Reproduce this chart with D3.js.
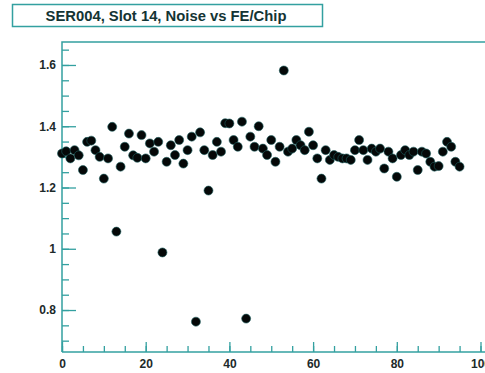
<!DOCTYPE html>
<html>
<head>
<meta charset="utf-8">
<script src="https://cdn.jsdelivr.net/npm/d3@7"></script>
<style>
  body { margin: 0; background: #fff; }
  svg { display: block; }
  .lbl { font-family: "Liberation Sans", Arial, Helvetica, sans-serif; font-weight: bold; font-size: 12px; fill: #1c2a2a; }
</style>
</head>
<body>
<svg id="chart" width="485" height="373"></svg>
<script>
// noise per FE/Chip index
const chipIndex = d3.range(0, 96);
const noise = [
    1.311, 1.318, 1.295, 1.322, 1.305, 1.257, 1.349, 1.353, 1.322, 1.300,
    1.229, 1.295, 1.398, 1.056, 1.268, 1.333, 1.376, 1.305, 1.297, 1.371,
    1.295, 1.344, 1.317, 1.349, 0.988, 1.284, 1.338, 1.306, 1.355, 1.278,
    1.322, 1.366, 0.762, 1.380, 1.322, 1.190, 1.306, 1.349, 1.317, 1.410,
    1.409, 1.355, 1.333, 1.415, 0.772, 1.366, 1.333, 1.400, 1.327, 1.306,
    1.355, 1.284, 1.333, 1.582, 1.317, 1.327, 1.355, 1.338, 1.322, 1.382,
    1.338, 1.295, 1.229, 1.322, 1.290, 1.306, 1.300, 1.295, 1.295, 1.290,
    1.322, 1.355, 1.322, 1.290, 1.327, 1.317, 1.327, 1.262, 1.317, 1.295,
    1.235, 1.306, 1.322, 1.306, 1.317, 1.257, 1.317, 1.311, 1.284, 1.268,
    1.270, 1.317, 1.349, 1.333, 1.284, 1.268
];
const xMajor = [0, 20, 40, 60, 80, 100];
const xMinor = d3.range(0, 101, 5);
const yMajor = [0.8, 1.0, 1.2, 1.4, 1.6];
const yMinor = [0.7, 0.75, 0.8, 0.85, 0.9, 0.95, 1.0, 1.05, 1.1, 1.15, 1.2, 1.25, 1.3, 1.35, 1.4, 1.45, 1.5, 1.55, 1.6, 1.65];
const title = 'SER004, Slot 14, Noise vs FE/Chip';

const axisColor = '#33a0a0';
const svg = d3.select('#chart');

const x = d3.scaleLinear().domain([0, 100]).range([62, 480.5]);
const y = d3.scaleLinear().domain([0.663, 1.675]).range([352, 42]);

// frame (right side runs off the picture)
svg.append('path')
    .attr('d', `M${x(0)},${y.range()[0]}V${y.range()[1]}H490`)
    .attr('fill', 'none')
    .attr('stroke', axisColor)
    .attr('stroke-width', 1.5);
svg.append('line')
    .attr('x1', x(0)).attr('x2', 490)
    .attr('y1', y.range()[0]).attr('y2', y.range()[0])
    .attr('stroke', axisColor)
    .attr('stroke-width', 1.5);

// x axis ticks (inward)
const gx = svg.append('g').attr('transform', `translate(0,${y.range()[0]})`);
gx.call(d3.axisBottom(x).tickValues(xMinor).tickSize(-6).tickFormat(''));
gx.append('g').call(d3.axisBottom(x).tickValues(xMajor).tickSize(-10).tickPadding(14).tickFormat(d3.format('d')));
gx.selectAll('.domain').remove();
gx.selectAll('line').attr('stroke', axisColor).attr('stroke-width', 1.3);
gx.selectAll('text').attr('class', 'lbl').attr('dy', '0.2em');

// y axis ticks (inward)
const gy = svg.append('g').attr('transform', `translate(${x(0)},0)`);
gy.call(d3.axisLeft(y).tickValues(yMinor).tickSize(-7).tickFormat(''));
gy.append('g').call(d3.axisLeft(y).tickValues(yMajor).tickSize(-14).tickPadding(6).tickFormat(d => d3.format('~g')(d)));
gy.selectAll('.domain').remove();
gy.selectAll('line').attr('stroke', axisColor).attr('stroke-width', 1.3);
gy.selectAll('text').attr('class', 'lbl');

// points
svg.append('g')
    .selectAll('circle')
    .data(chipIndex.map((c, i) => ({c: c, v: noise[i]})))
    .join('circle')
    .attr('cx', d => x(d.c))
    .attr('cy', d => y(d.v))
    .attr('r', 4.5)
    .attr('fill', '#050808')
    .attr('stroke', '#1e6262')
    .attr('stroke-width', 0.6);

// title box
svg.append('rect')
    .attr('x', 12.5).attr('y', 4.5)
    .attr('width', 310).attr('height', 22)
    .attr('fill', '#fff')
    .attr('stroke', axisColor)
    .attr('stroke-width', 1.5);
svg.append('text')
    .attr('class', 'lbl')
    .attr('x', 166).attr('y', 21)
    .attr('text-anchor', 'middle')
    .style('font-size', '14.8px')
    .style('fill', '#143434')
    .text(title);
</script>
</body>
</html>
